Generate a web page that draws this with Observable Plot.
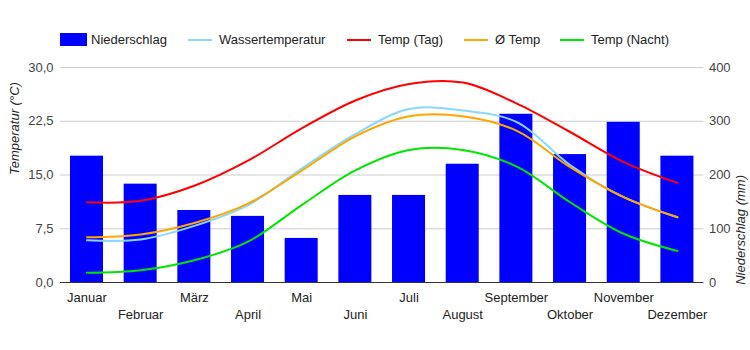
<!DOCTYPE html>
<html>
<head>
<meta charset="utf-8">
<script src="https://cdn.jsdelivr.net/npm/d3@7"></script>
<script src="https://cdn.jsdelivr.net/npm/@observablehq/plot@0.6"></script>
<style>
  html, body { margin: 0; padding: 0; background: #fff; }
  body { width: 750px; height: 350px; overflow: hidden; font-family: "Liberation Sans", Arial, sans-serif; }
  #legend { position: relative; height: 55px; width: 750px; font-size: 13px; color: #222; }
  .item { position: absolute; top: 32px; display: flex; align-items: center; height: 15px; white-space: nowrap; }
  .sq { width: 27px; height: 13px; margin-right: 4px; }
  .ln { width: 24px; height: 2px; margin-right: 7px; }
  svg { display: block; }
</style>
</head>
<body>
<div id="legend"></div>
<div id="chart"></div>
<script>
const months = ["Januar","Februar","März","April","Mai","Juni","Juli","August","September","Oktober","November","Dezember"];
const niederschlag = [235,183,134,123,82,162,162,220,313,238,298,235];
const wassertemperatur = [5.9,6.0,7.9,10.8,15.9,20.7,24.2,24.0,22.4,16.4,11.9,9.1];
const tempTag = [11.2,11.4,13.5,17.0,21.5,25.4,27.7,27.9,25.0,21.0,16.8,13.9];
const tempMittel = [6.3,6.7,8.3,11.0,15.6,20.4,23.2,23.2,21.2,16.1,11.9,9.1];
const tempNacht = [1.35,1.7,3.1,5.7,10.8,15.65,18.5,18.5,16.2,11.2,6.8,4.4];
const tempTicks = [0,7.5,15,22.5,30];
const rainTicks = [0,100,200,300,400];

const series = [
  {name: "Niederschlag", color: "#0000ff", kind: "bar"},
  {name: "Wassertemperatur", color: "#87d8ff", values: wassertemperatur},
  {name: "Temp (Tag)", color: "#ff0000", values: tempTag},
  {name: "Ø Temp", color: "#ffa500", values: tempMittel},
  {name: "Temp (Nacht)", color: "#00e600", values: tempNacht}
];
const legendLeft = [60, 188, 347, 464, 560];

const legend = document.getElementById("legend");
series.forEach((s, i) => {
  const it = document.createElement("div");
  it.className = "item";
  it.style.left = legendLeft[i] + "px";
  const sw = document.createElement("div");
  sw.className = s.kind === "bar" ? "sq" : "ln";
  sw.style.background = s.color;
  const tx = document.createElement("span");
  tx.textContent = s.name;
  it.append(sw, tx);
  legend.append(it);
});

const k = 30 / 400; // mm -> °C axis ratio
const rows = months.map((m, i) => ({month: m, i, rain: niederschlag[i]}));
const lineData = series.filter(s => s.values).flatMap(s => s.values.map((v, i) => ({series: s.name, color: s.color, month: months[i], v})));
const fmt = d => d.toFixed(1).replace(".", ",");

const chart = Plot.plot({
  width: 750,
  height: 295,
  marginTop: 12,
  marginBottom: 68,
  marginLeft: 60,
  marginRight: 46.6,
  style: {fontFamily: "'Liberation Sans', Arial, sans-serif", fontSize: "13px", color: "#444", background: "#fff", overflow: "visible"},
  x: {type: "band", domain: months, paddingInner: 0.385, paddingOuter: 0.186, round: false, axis: null},
  y: {domain: [0, 30], axis: null},
  marks: [
    Plot.gridY(tempTicks.filter(d => d > 0), {stroke: "#cccccc", strokeOpacity: 1}),
    Plot.axisY(tempTicks, {anchor: "left", tickSize: 0, tickPadding: 7, tickFormat: fmt, label: null, fill: "#444"}),
    Plot.axisY(rainTicks.map(d => d * k), {anchor: "right", tickSize: 0, tickPadding: 5, tickFormat: d => String(Math.round(d / k)), label: null, fill: "#444"}),
    Plot.barY(rows, {x: "month", y: d => d.rain * k, fill: "#0000ff"}),
    ...series.filter(s => s.values).map(s =>
      Plot.line(lineData.filter(d => d.series === s.name), {x: "month", y: "v", stroke: s.color, strokeWidth: 2, curve: "catmull-rom"})
    ),
    Plot.ruleY([0], {stroke: "#333", strokeWidth: 1}),
    Plot.text(rows.filter(d => d.i % 2 === 0), {x: "month", text: "month", frameAnchor: "bottom", dy: 15, lineAnchor: "middle", fill: "#222"}),
    Plot.text(rows.filter(d => d.i % 2 === 1), {x: "month", text: "month", frameAnchor: "bottom", dy: 32, lineAnchor: "middle", fill: "#222"}),
    Plot.text(["Temperatur (°C)"], {frameAnchor: "left", rotate: -90, dx: -46, fontStyle: "italic", fill: "#222"}),
    Plot.text(["Niederschlag (mm)"], {frameAnchor: "right", rotate: -90, dx: 37, fontStyle: "italic", fill: "#222"})
  ]
});
document.getElementById("chart").append(chart);
</script>
</body>
</html>
